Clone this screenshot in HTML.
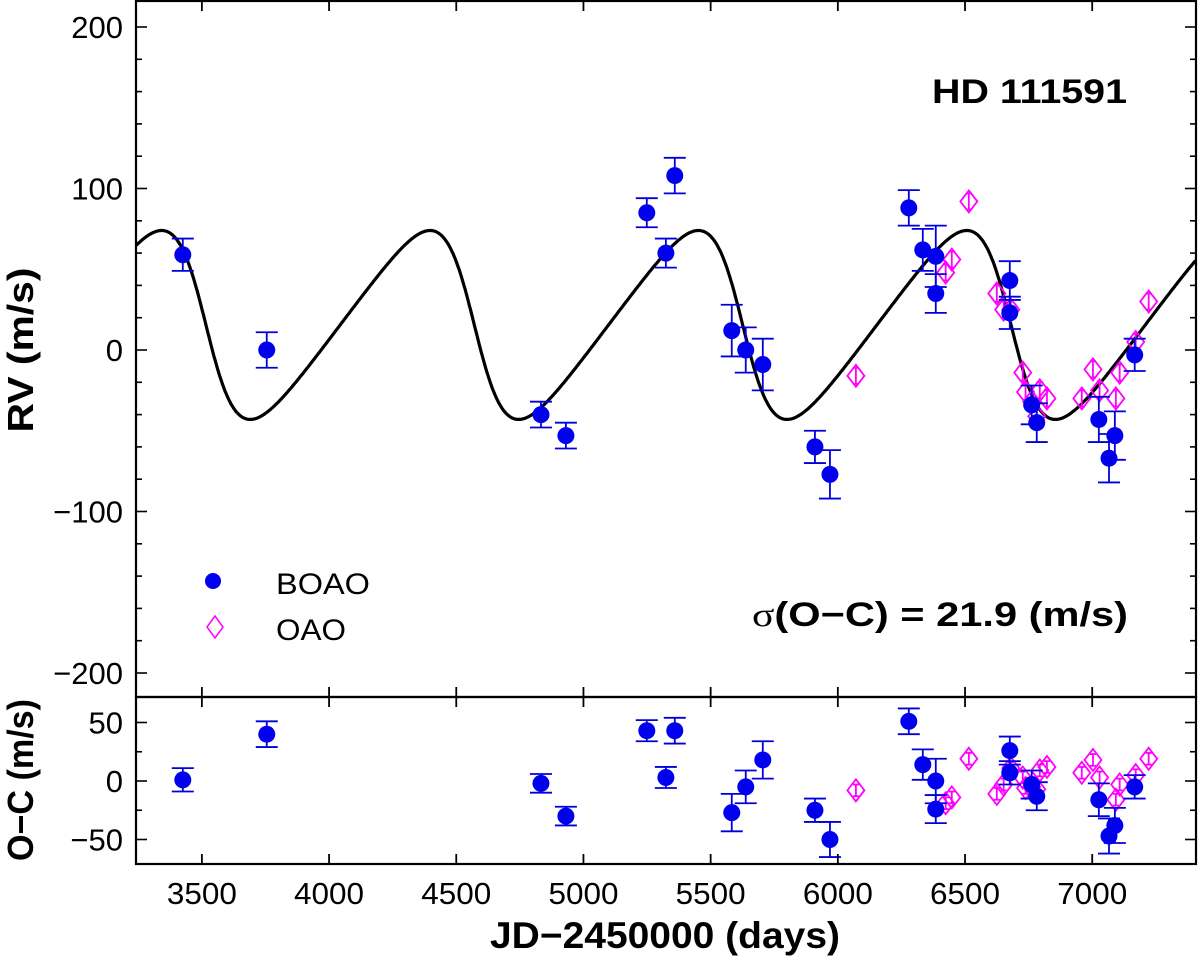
<!DOCTYPE html>
<html><head><meta charset="utf-8"><style>
html,body{margin:0;padding:0;background:#fff;}
svg{display:block;font-family:"Liberation Sans",Arial,sans-serif;}
</style></head><body>
<svg id="chart" width="1200" height="957" viewBox="0 0 1200 957" xmlns="http://www.w3.org/2000/svg">
<g id="g-top"></g>
<g id="g-bot"></g>
<text x="932" y="103" font-size="34" font-weight="bold" textLength="195" lengthAdjust="spacingAndGlyphs">HD 111591</text>
<text x="752" y="626" font-size="34" font-weight="bold" textLength="376" lengthAdjust="spacingAndGlyphs"><tspan font-weight="normal" font-family="Liberation Serif, serif">σ</tspan>(O−C) = 21.9 (m/s)</text>
<circle cx="213" cy="581" r="8" fill="#0000ee"/>
<text x="276" y="594" font-size="30" textLength="94" lengthAdjust="spacingAndGlyphs">BOAO</text>
<path d="M215 616 L223 627 L215 638 L207 627 Z" fill="none" stroke="#ff00ff" stroke-width="1.5"/>
<text x="276" y="640" font-size="30" textLength="70" lengthAdjust="spacingAndGlyphs">OAO</text>
<text transform="translate(33,350) rotate(-90)" font-size="36" font-weight="bold" text-anchor="middle" textLength="165" lengthAdjust="spacingAndGlyphs">RV (m/s)</text>
<text transform="translate(33,780) rotate(-90)" font-size="36" font-weight="bold" text-anchor="middle" textLength="162" lengthAdjust="spacingAndGlyphs">O−C (m/s)</text>
<text x="665" y="948" font-size="37" font-weight="bold" text-anchor="middle" textLength="350" lengthAdjust="spacingAndGlyphs">JD−2450000 (days)</text>
</svg>
<script>
// Data (JD-2450000, m/s)
const boaoT   = [3425,3755,4833,4931,5249,5324,5359,5583,5638,5705,5910,5969,6279,6334,6385,6385,6676,6676,6782,6762,7026,7066,7089,7167];
const boaoRV  = [59,0,-40,-53,85,60,108,12,0,-9,-60,-77,88,62,58,35,43,23,-45,-34,-43,-67,-53,-3];
const boaoErr = [10,11,8,8,9,9,11,16,14,16,10,15,11,13,19,12,12,10,12,12,14,15,15,10];
const boaoOC  = [1,40,-2,-30,43,3,43,-27,-5,18,-25,-50,51,14,0,-24,26,7,-13,-3,-16,-47,-38,-5];
const oaoT    = [6071,6424,6448,6515,6625,6652,6680,6727,6738,6762,6782,6794,6822,6959,7003,7029,7093,7108,7171,7222];
const oaoRV   = [-16,48,56,92,35,25,25,-14,-26,-32,-41,-25,-30,-30,-12,-25,-30,-14,5,30];
const oaoErr  = [5,5,5,5,5,5,5,5,5,5,5,5,5,5,5,5,5,5,5,5];
const oaoOC   = [-8,-19,-14,19,-11,-3,11,3,-6,-5,-7,9,12,7,18,3,-16,-3,5,19];
// Orbit model parameters
const orbP = 1055, orbTp = 3516, orbE = 0.27, orbK = 58.5, orbGamma = 15.5, orbOmegaDeg = 90;
const xTicks = [3500,4000,4500,5000,5500,6000,6500,7000];
const rvTicks = [-200,-100,0,100,200];
const ocTicks = [-50,0,50];

const NS="http://www.w3.org/2000/svg";
const X0=136,X1=1196, T0=3241, T1=7408;
const xs=t=>X0+(t-T0)*(X1-X0)/(T1-T0);
const TOP_Y0=1, TOP_Y1=697, ys=v=>350-v*1.615;
const BOT_Y0=697, BOT_Y1=864, yo=v=>781-v*1.17;
const gT=document.getElementById('g-top'), gB=document.getElementById('g-bot');
function mk(tag,attrs,parent){const e=document.createElementNS(NS,tag);for(const k in attrs)e.setAttribute(k,attrs[k]);parent.appendChild(e);return e;}

function rvModel(t){
  const M=2*Math.PI*(t-orbTp)/orbP;
  let E=M; for(let i=0;i<30;i++)E=E-(E-orbE*Math.sin(E)-M)/(1-orbE*Math.cos(E));
  const nu=2*Math.atan2(Math.sqrt(1+orbE)*Math.sin(E/2),Math.sqrt(1-orbE)*Math.cos(E/2));
  const w=orbOmegaDeg*Math.PI/180;
  return orbGamma+orbK*(Math.cos(nu+w)+orbE*Math.cos(w));
}
const defs=mk('defs',{},document.getElementById('chart'));
const cp=mk('clipPath',{id:'clipTop'},defs); mk('rect',{x:X0,y:TOP_Y0,width:X1-X0,height:TOP_Y1-TOP_Y0},cp);
let d='';
for(let t=T0;t<=T1;t+=2){d+=(d?'L':'M')+xs(t).toFixed(1)+' '+ys(rvModel(t)).toFixed(1);}
const curve=mk('path',{d:d,fill:'none',stroke:'#000','stroke-width':3.2,'clip-path':'url(#clipTop)'},gT);



function errbar(g,x,y1,y2,col,cap){
  mk('line',{x1:x,y1:y1,x2:x,y2:y2,stroke:col,'stroke-width':1.8},g);
  mk('line',{x1:x-cap,y1:y1,x2:x+cap,y2:y1,stroke:col,'stroke-width':1.8},g);
  mk('line',{x1:x-cap,y1:y2,x2:x+cap,y2:y2,stroke:col,'stroke-width':1.8},g);
}
function boao(g,t,v,e,yf,name){
  const grp=mk('g',{},g);
  
  
  const x=xs(t);
  errbar(grp,x,yf(v+e),yf(v-e),'#0000dd',11);
  mk('circle',{cx:x,cy:yf(v),r:8.5,fill:'#0000ee'},grp);
}
function oao(g,t,v,e,yf,name){
  const grp=mk('g',{},g);
  
  
  const x=xs(t),y=yf(v);
  errbar(grp,x,yf(v+e),yf(v-e),'#ff00ff',3);
  mk('path',{d:`M${x} ${y-11} L${x+8.5} ${y} L${x} ${y+11} L${x-8.5} ${y} Z`,fill:'none',stroke:'#ff00ff','stroke-width':1.8},grp);
}
for(let i=0;i<oaoT.length;i++){oao(gT,oaoT[i],oaoRV[i],oaoErr[i],ys,'oao-rv-point');oao(gB,oaoT[i],oaoOC[i],oaoErr[i],yo,'oao-residual-point');}
for(let i=0;i<boaoT.length;i++){boao(gT,boaoT[i],boaoRV[i],boaoErr[i],ys,'boao-rv-point');boao(gB,boaoT[i],boaoOC[i],boaoErr[i],yo,'boao-residual-point');}

function frame(g,y0,y1,name){
  const r=mk('rect',{x:X0,y:y0,width:X1-X0,height:y1-y0,fill:'none',stroke:'#000','stroke-width':2.2},g);
  
  
}
frame(gT,TOP_Y0,TOP_Y1,'rv-plot-frame');
frame(gB,BOT_Y0,BOT_Y1,'residual-plot-frame');
xTicks.forEach(t=>{const x=xs(t);
  [[TOP_Y0,1],[TOP_Y1,-1],[BOT_Y0,1],[BOT_Y1,-1]].forEach(([y,s])=>mk('line',{x1:x,y1:y,x2:x,y2:y+s*10,stroke:'#000','stroke-width':1.8},gB));
  const tx=mk('text',{x:x,y:904,'font-size':31,'text-anchor':'middle',textLength:70,lengthAdjust:'spacingAndGlyphs'},gB);
  tx.textContent=t;
  
  
});
for(let v=-200;v<=200;v+=20){const y=ys(v);const L=(v%100===0)?11:6;
  mk('line',{x1:X0,y1:y,x2:X0+L,y2:y,stroke:'#000','stroke-width':1.6},gT);
  mk('line',{x1:X1,y1:y,x2:X1-L,y2:y,stroke:'#000','stroke-width':1.6},gT);}
rvTicks.forEach(v=>{const tx=mk('text',{x:123,y:ys(v)+11,'font-size':31,'text-anchor':'end'},gT);
  tx.textContent=(v<0?'−':'')+Math.abs(v);
  
  });
for(let v=-50;v<=50;v+=25){const y=yo(v);const L=(v%50===0)?11:6;
  mk('line',{x1:X0,y1:y,x2:X0+L,y2:y,stroke:'#000','stroke-width':1.6},gB);
  mk('line',{x1:X1,y1:y,x2:X1-L,y2:y,stroke:'#000','stroke-width':1.6},gB);}
ocTicks.forEach(v=>{const tx=mk('text',{x:123,y:yo(v)+11,'font-size':31,'text-anchor':'end'},gB);
  tx.textContent=(v<0?'−':'')+Math.abs(v);
  
  });
</script>
</body></html>
